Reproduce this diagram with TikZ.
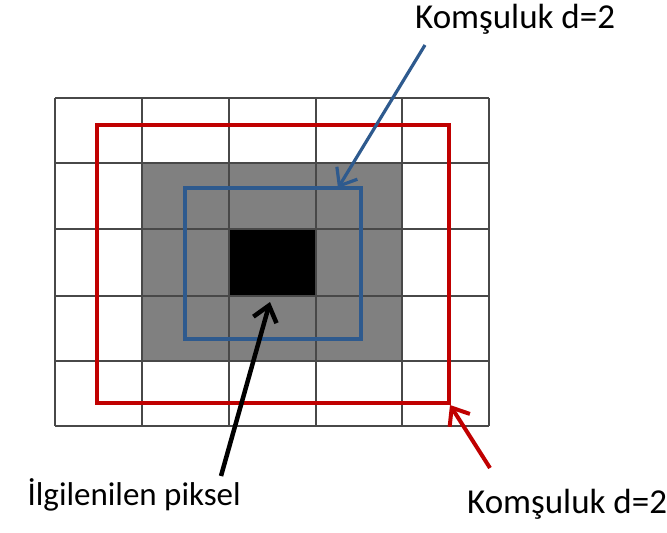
\documentclass[tikz,border=0pt]{standalone}
\usepackage{fontspec}
\setmainfont{Carlito}
\usetikzlibrary{arrows.meta}
\definecolor{redc}{HTML}{C00000}
\definecolor{bluec}{HTML}{2E5A8E}
\definecolor{gridc}{HTML}{484848}
\definecolor{fillc}{HTML}{808080}
\begin{document}
\begin{tikzpicture}[x=1pt,y=-1pt,
  gridline/.style={draw=gridc,line width=1.8pt},
  redbox/.style={draw=redc,line width=3.2pt,line join=miter},
  bluebox/.style={draw=bluec,line width=3.2pt,line join=miter},
  label/.style={font=\fontsize{35}{40}\selectfont,anchor=base west,inner sep=0pt},
  arr/.style={line width=#1,-{Straight Barb[length=15pt,width=24pt,line width=#1]}},
]
\useasboundingbox (0,0) rectangle (667,533);
% shaded cells
\fill[fillc] (142,163) rectangle (402,361);
\fill[black] (229,229) rectangle (316,296);
% grid
\foreach \x in {55,142,229,316,402,489} \draw[gridline] (\x,98) -- (\x,426);
\foreach \y in {98,163,229,296,361,426} \draw[gridline] (55,\y) -- (489,\y);
% neighbourhood rectangles
\draw[redbox] (97,125) rectangle (449,403);
\draw[bluebox] (185,188) rectangle (361,339);
% anchors
\coordinate (redtip) at (450,405);
\coordinate (bluetip) at (338,188);
\coordinate (blacktip) at (270,302);
% labels
\node[label] (top) at (415,28) {Komşuluk d=2};
\node[label] (bottom) at (467,513) {Komşuluk d=2};
\node[label,anchor=base east,font=\fontsize{33}{38}\selectfont] (pix) at (241,505) {İlgilenilen piksel};
\coordinate (bluetail) at (425,45);
\coordinate (redtail) at (490,468);
\coordinate (blacktail) at (221,476);
% arrows
\draw[arr=3.2pt,draw=bluec] (bluetail) -- (bluetip);
\draw[arr=4pt,draw=redc] (redtail) -- (redtip);
\draw[arr=4.5pt,draw=black] (blacktail) -- (blacktip);
\end{tikzpicture}
\end{document}
